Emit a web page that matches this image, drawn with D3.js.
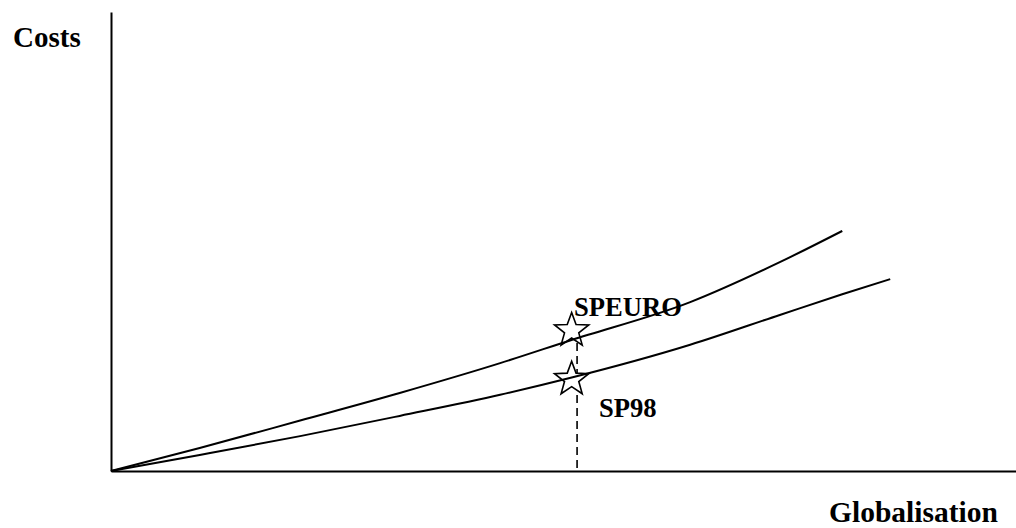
<!DOCTYPE html>
<html><head><meta charset="utf-8">
<script src="https://cdn.jsdelivr.net/npm/d3@7"></script>
<style>
html,body{margin:0;padding:0;background:#fff;}
svg{display:block;}
text{font-family:"Liberation Serif","Times New Roman",serif;font-weight:bold;fill:#000;}
</style></head>
<body>
<svg id="chart" width="1016" height="528"></svg>
<script>
// Data (arbitrary units)
const speuroX = [0, 9.8, 20.9, 31.9, 43.0, 50.8, 64.0, 73.9, 80.8];
const speuroY = [0, 5.0, 11.0, 17.0, 23.5, 28.5, 36.8, 45.5, 52.3];
const sp98X   = [0, 9.8, 20.9, 31.9, 43.0, 50.8, 64.0, 73.9, 80.8, 86.1];
const sp98Y   = [0, 3.5, 7.6, 12.0, 16.6, 20.3, 27.5, 34.0, 38.5, 41.8];
const starNames = ["SPEURO", "SP98"];
const starX = [50.9, 50.9];
const starY = [30.6, 20.0];
const dropX = 51.5;
const dropTop = 27.9;
const axisLabels = ["Costs", "Globalisation"];

const svg = d3.select("#chart");
const x = d3.scaleLinear().domain([0, 100]).range([111, 1016]);
const y = d3.scaleLinear().domain([0, 100]).range([471, 12]);

// dashed drop line
svg.append("line")
  .attr("x1", x(dropX)).attr("x2", x(dropX))
  .attr("y1", y(dropTop)).attr("y2", y(0))
  .attr("stroke", "#000").attr("stroke-width", 1.6)
  .attr("stroke-dasharray", "8,5");

// stars
function starPath(R, r) {
  const pts = [];
  for (let i = 0; i < 10; i++) {
    const a = -Math.PI / 2 + i * Math.PI / 5;
    const rad = i % 2 === 0 ? R : r;
    pts.push([rad * Math.cos(a), rad * Math.sin(a)]);
  }
  return "M" + pts.map(p => p.join(",")).join("L") + "Z";
}
svg.selectAll("path.star").data(starX).enter().append("path")
  .attr("class", "star")
  .attr("d", starPath(18, 7.5))
  .attr("transform", (d, i) => `translate(${x(d)},${y(starY[i])})`)
  .attr("fill", "#fff").attr("stroke", "#000").attr("stroke-width", 1.6);

// axes
const gx = svg.append("g").attr("transform", `translate(0,${y(0)})`)
  .call(d3.axisBottom(x).ticks(0).tickSizeOuter(0));
const gy = svg.append("g").attr("transform", `translate(${x(0)},0)`)
  .call(d3.axisLeft(y).ticks(0).tickSizeOuter(0));
[gx, gy].forEach(g => g.select(".domain").attr("stroke", "#000").attr("stroke-width", 2));

// curves
const line = d3.line().x(d => x(d[0])).y(d => y(d[1])).curve(d3.curveMonotoneX);
[[speuroX, speuroY], [sp98X, sp98Y]].forEach(([xs, ys]) => {
  svg.append("path")
    .datum(xs.map((v, i) => [v, ys[i]]))
    .attr("d", line)
    .attr("fill", "none").attr("stroke", "#000").attr("stroke-width", 2);
});

// labels
svg.append("text").attr("x", 13).attr("y", 47).attr("font-size", 29).text(axisLabels[0]);
svg.append("text").attr("x", 829).attr("y", 522).attr("font-size", 29.5).text(axisLabels[1]);
svg.append("text").attr("x", 574).attr("y", 316).attr("font-size", 26.6).text(starNames[0]);
svg.append("text").attr("x", 599).attr("y", 417).attr("font-size", 26.6).text(starNames[1]);
</script>
</body></html>
